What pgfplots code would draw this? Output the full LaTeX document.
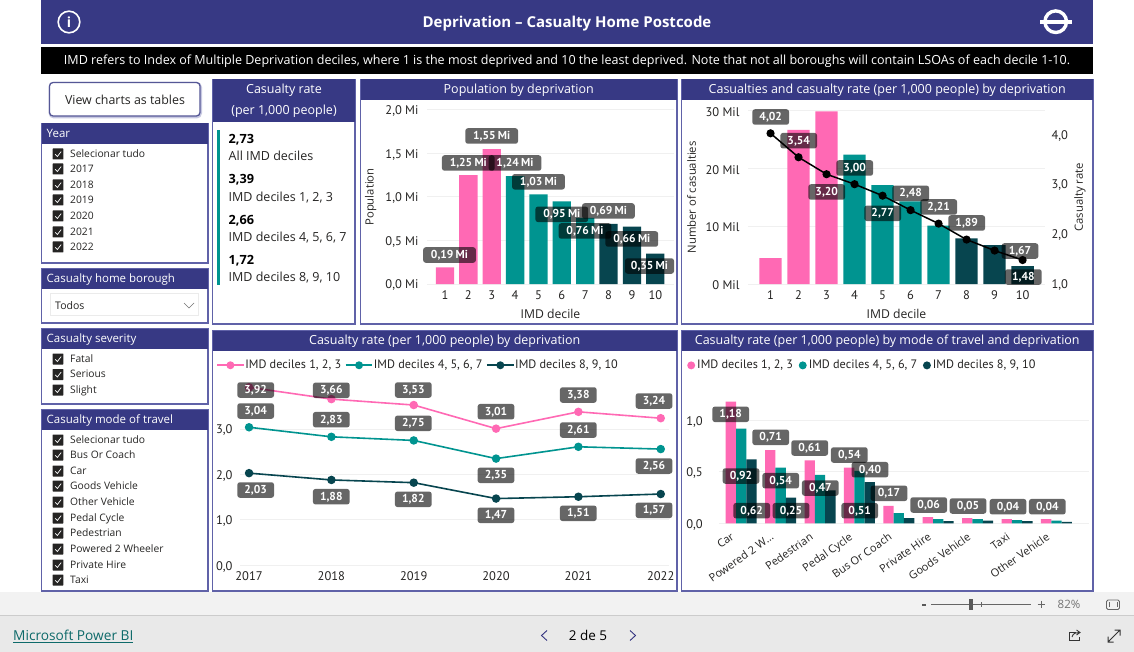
\documentclass[border=0pt]{standalone}
\usepackage{fontspec}
\usepackage{pgfplots}
\pgfplotsset{compat=1.18}
\setmainfont{Open Sans}
\newfontfamily\din{PT Sans}
\definecolor{hdr}{RGB}{55,57,132}
\definecolor{edge}{RGB}{96,98,168}
\definecolor{pinkb}{RGB}{255,105,180}
\definecolor{tealb}{RGB}{0,148,144}
\definecolor{darkb}{RGB}{7,69,79}
\definecolor{gridc}{RGB}{240,240,240}
\definecolor{inkc}{RGB}{37,36,35}
\definecolor{linkc}{RGB}{14,106,106}
\newcommand\fs[1]{\fontsize{#1}{#1}\selectfont}
\tikzset{
  txt/.style={inner sep=0pt,text height=.74em,text depth=.22em},
  panel/.style={draw=edge,line width=1.2pt,fill=white},
}
% value label: optional width, centre x, centre y, text
\newcommand\lab[4][36.7]{\node[fill=black,fill opacity=.6,text opacity=1,rounded corners=2.5pt,
  minimum width=#1pt,minimum height=15.5pt,inner sep=0pt,text height=.7em,text depth=0pt,
  text=white,font=\din\bfseries\fs{11.5}] at (#2,#3) {#4};}
\newcommand\chk[2]{\fill[inkc,rounded corners=.5pt] (52.7,#2-5.5) rectangle (63.4,#2+5.5);
  \draw[white,line width=.7pt] (55.2,#2+.3) -- (57.4,#2+2.5) -- (61.2,#2-2.5);
  \node[txt,anchor=west,text=inkc,font=\fs{10.3}] at (70,#2+.8) {#1};}
\newcommand\panelbox[6]{% x0 y0 x1 y1 header-bottom title
  \filldraw[panel] (#1,#2) rectangle (#3,#4);
  \fill[hdr] (#1,#2) rectangle (#3,#5);
  \node[text=white,txt,font=\fs{12.5}] at ({(#1+#3)/2},{(#2+#5)/2+1}) {#6};}
\newcommand\slicer[6]{% x0 y0 x1 y1 header-bottom title, left aligned
  \filldraw[panel] (#1,#2) rectangle (#3,#4);
  \fill[hdr] (#1,#2) rectangle (#3,#5);
  \node[text=white,txt,anchor=west,font=\fs{11.5}] at (#1+5,{(#2+#5)/2+1}) {#6};}
\pgfplotsset{
  dash/.style={scale only axis,axis line style={draw=none},major tick length=0pt,
    tick style={draw=none},
    ymajorgrids,grid style={gridc,line width=1pt},
    tick label style={text=inkc,font=\din\fs{12.5}},
    yticklabel style={yshift=-1.2pt},
    xticklabel shift=2.8pt,
    xlabel style={text=inkc,font=\fs{12.2}},
    ylabel style={text=inkc,font=\fs{11.3}},
    /pgf/number format/assume math mode=true},
  barplot/.style={ybar,bar shift=0pt,draw=none,fill=#1},
}
\begin{document}
\begin{tikzpicture}
\path[use as bounding box] (0pt,-652pt) rectangle (1134pt,0pt);
\fill[white] (0pt,-652pt) rectangle (1134pt,0pt);
\begin{scope}[x=1pt,y=-1pt]
% footer
\fill[black!5] (0,592) rectangle (1134,615);
\fill[black!8.5] (0,615) rectangle (1134,652);
\draw[black!20,line width=.8pt] (0,615) -- (1134,615);
% banner
\fill[hdr] (41,0) rectangle (1093,44);
\node[text=white,font=\bfseries\fs{15}] at (567,24) {Deprivation – Casualty Home Postcode};
\draw[white,line width=1.6pt] (69,22) circle (10.8);
\node[text=white,font=\bfseries\fs{14}] at (69,22) {i};
\draw[white,line width=3.4pt] (1055.7,21.7) circle (10.8);
\fill[hdr] (1047.5,18) rectangle (1064,25.5);
\fill[white] (1040,19.7) rectangle (1071.5,23.7);
\fill[black] (41,47) rectangle (1093,74);
\node[text=white,font=\fs{12.53}] at (567,61.3) {IMD refers to Index of Multiple Deprivation deciles, where 1 is the most deprived and 10 the least deprived. Note that not all boroughs will contain LSOAs of each decile 1-10.};
% button
\draw[edge!35,line width=3pt,rounded corners=4pt] (50,83.5) rectangle (200.5,117);
\filldraw[draw=hdr!85,fill=white,line width=1.3pt,rounded corners=3.5pt] (49.5,82.5) rectangle (200,116);
\node[text=inkc,font=\fs{12.4}] at (125,100) {View charts as tables};
% slicers
\slicer{41.5}{123.5}{208}{263}{144}{Year}
\chk{Selecionar tudo}{154}\chk{2017}{169}\chk{2018}{185}\chk{2019}{200}\chk{2020}{216}\chk{2021}{232}\chk{2022}{247}
\slicer{41.5}{268.5}{208}{323}{289}{Casualty home borough}
\draw[black!8,line width=.8pt] (50.5,293.5) rectangle (198.5,315);
\node[txt,anchor=west,text=inkc,font=\fs{10.5}] at (55,306.5) {Todos};
\draw[black!55,line width=.7pt] (184,303) -- (189,308) -- (194,303);
\slicer{41.5}{329}{208}{404}{349}{Casualty severity}
\chk{Fatal}{359}\chk{Serious}{374.5}\chk{Slight}{390}
\slicer{41.5}{409.5}{208}{591}{430}{Casualty mode of travel}
\chk{Selecionar tudo}{440}\chk{Bus Or Coach}{455}\chk{Car}{471}\chk{Goods Vehicle}{486}\chk{Other Vehicle}{502}
\chk{Pedal Cycle}{518}\chk{Pedestrian}{533}\chk{Powered 2 Wheeler}{549}\chk{Private Hire}{565}\chk{Taxi}{580}
% KPI card
\filldraw[panel] (212.5,79.5) rectangle (355,324);
\fill[hdr] (212.5,79.5) rectangle (355,122);
\node[text=white,font=\fs{12.5}] at (284,90.5) {Casualty rate};
\node[text=white,font=\fs{12.5}] at (284,111.5) {(per 1,000 people)};
\fill[tealb] (217,130) rectangle (220,285);
\node[txt,anchor=west,text=black,font=\bfseries\fs{12.7}] at (228.5,141) {2,73};
\node[txt,anchor=west,text=inkc,font=\fs{12.5}] at (228.5,158) {All IMD deciles};
\node[txt,anchor=west,text=black,font=\bfseries\fs{12.7}] at (228.5,181) {3,39};
\node[txt,anchor=west,text=inkc,font=\fs{12.5}] at (228.5,199) {IMD deciles 1, 2, 3};
\node[txt,anchor=west,text=black,font=\bfseries\fs{12.7}] at (228.5,221.5) {2,66};
\node[txt,anchor=west,text=inkc,font=\fs{12.5}] at (228.5,239) {IMD deciles 4, 5, 6, 7};
\node[txt,anchor=west,text=black,font=\bfseries\fs{12.7}] at (228.5,261.5) {1,72};
\node[txt,anchor=west,text=inkc,font=\fs{12.5}] at (228.5,279) {IMD deciles 8, 9, 10};
% chart panels
\panelbox{360.5}{79.5}{677}{324}{100}{Population by deprivation}
\panelbox{681.5}{79.5}{1093}{324}{100}{Casualties and casualty rate (per 1,000 people) by deprivation}
\panelbox{212.5}{330.5}{677}{591}{351}{Casualty rate (per 1,000 people) by deprivation}
\panelbox{681.5}{330.5}{1093}{591}{351}{Casualty rate (per 1,000 people) by mode of travel and deprivation}
\end{scope}

% population
\begin{axis}[dash,at={(427pt,-284pt)},anchor=south west,width=247pt,height=174pt,
  xmin=0.23,xmax=10.8,ymin=0,ymax=2,xtick={1,...,10},
  ytick={0,0.5,1,1.5,2},yticklabels={{0,0 Mi},{0,5 Mi},{1,0 Mi},{1,5 Mi},{2,0 Mi}},
  yticklabel shift=5pt,
  xlabel={IMD decile},ylabel={Population},
  xlabel style={at={(axis description cs:0.5,-0.171)},anchor=center},
  ylabel style={at={(axis description cs:-0.228,0.5)},anchor=center},
  bar width=18.3pt]
\addplot[barplot=pinkb] coordinates {(1,0.19)(2,1.25)(3,1.55)};
\addplot[barplot=tealb] coordinates {(4,1.24)(5,1.03)(6,0.95)(7,0.76)};
\addplot[barplot=darkb] coordinates {(8,0.69)(9,0.66)(10,0.35)};
\end{axis}

% casualties and rate
\begin{axis}[dash,at={(748pt,-284pt)},anchor=south west,width=297pt,height=173.3pt,
  xmin=0.196,xmax=10.8,ymin=0,ymax=30,xtick={1,...,10},
  ytick={0,10,20,30},yticklabels={0 Mil,10 Mil,20 Mil,30 Mil},
  yticklabel shift=5pt,
  xlabel={IMD decile},ylabel={Number of casualties},
  xlabel style={at={(axis description cs:0.5,-0.171)},anchor=center},
  ylabel style={at={(axis description cs:-0.19,0.5)},anchor=center},
  bar width=22.3pt]
\addplot[barplot=pinkb] coordinates {(1,4.5)(2,26.7)(3,29.9)};
\addplot[barplot=tealb] coordinates {(4,22.4)(5,17.1)(6,14.3)(7,10.1)};
\addplot[barplot=darkb] coordinates {(8,7.9)(9,6.75)(10,3.1)};
\end{axis}
\begin{axis}[dash,at={(748pt,-284pt)},anchor=south west,width=297pt,height=173.3pt,
  xmin=0.196,xmax=10.8,ymin=1,ymax=4.473,xtick=\empty,ymajorgrids=false,
  ytick={1,2,3,4},yticklabels={{1,0},{2,0},{3,0},{4,0}},ytick pos=right,yticklabel pos=right,
  yticklabel shift=3pt,
  ylabel={Casualty rate},
  ylabel style={at={(axis description cs:1.118,0.5)},anchor=center}]
\addplot[black,line width=1.5pt,mark=*,mark size=3.3pt,mark options={fill=black}] coordinates
  {(1,4.02)(2,3.54)(3,3.20)(4,3.00)(5,2.77)(6,2.48)(7,2.21)(8,1.89)(9,1.67)(10,1.48)};
\end{axis}

% rate by year
\begin{axis}[dash,at={(240pt,-565.3pt)},anchor=south west,width=429.3pt,height=190.7pt,
  xmin=2016.89,xmax=2022.104,ymin=0,ymax=4.2,xtick={2017,...,2022},
  xticklabels={2017,2018,2019,2020,2021,2022},
  ytick={0,1,2,3},yticklabels={{0,0},{1,0},{2,0},{3,0}},
  yticklabel shift=4pt,
  legend columns=3,
  legend style={at={(-0.0559,1.049)},anchor=west,draw=none,fill=none,inner sep=0pt,
    font=\din\fs{12.2},text=inkc,nodes={inner sep=0pt},
    /tikz/every even column/.style={column sep=3.6pt},
    /tikz/every odd column/.style={column sep=.8pt}},
  legend image code/.code={\draw[#1,line width=1.6pt] (0pt,0pt) -- (26.7pt,0pt);
    \fill[#1,draw=none] (13.4pt,0pt) circle (4pt);}]
\addplot[pinkb,line width=1.6pt,mark=*,mark size=3.4pt,mark options={fill=pinkb}] coordinates
  {(2017,3.92)(2018,3.66)(2019,3.53)(2020,3.01)(2021,3.38)(2022,3.24)};
\addlegendentry{IMD deciles 1, 2, 3}
\addplot[tealb,line width=1.6pt,mark=*,mark size=3.4pt,mark options={fill=tealb}] coordinates
  {(2017,3.04)(2018,2.83)(2019,2.75)(2020,2.35)(2021,2.61)(2022,2.56)};
\addlegendentry{IMD deciles 4, 5, 6, 7}
\addplot[darkb,line width=1.6pt,mark=*,mark size=3.4pt,mark options={fill=darkb}] coordinates
  {(2017,2.03)(2018,1.88)(2019,1.82)(2020,1.47)(2021,1.51)(2022,1.57)};
\addlegendentry{IMD deciles 8, 9, 10}
\end{axis}

% rate by mode
\begin{axis}[dash,at={(719.3pt,-523.3pt)},anchor=south west,width=370pt,height=143.3pt,
  xmin=-0.556,xmax=8.835,ymin=0,ymax=1.391,
  ybar=0pt,bar width=10.33pt,
  xtick={0,1,2,3,4,5,6,7,8},xticklabels={Car,Powered 2 W…,Pedestrian,Pedal Cycle,Bus Or Coach,Private Hire,Goods Vehicle,Taxi,Other Vehicle},
  xticklabel style={rotate=35,anchor=north east,font=\fs{11},xshift=-10.5pt,yshift=2.5pt},
  xticklabel shift=0pt,
  ytick={0,0.5,1},yticklabels={{0,0},{0,5},{1,0}},
  yticklabel shift=13pt,
  legend columns=3,
  legend style={at={(-0.0873,1.102)},anchor=west,draw=none,fill=none,inner sep=0pt,
    font=\din\fs{12.2},text=inkc,nodes={inner sep=0pt},
    /tikz/every even column/.style={column sep=5.6pt},
    /tikz/every odd column/.style={column sep=2pt}},
  legend image code/.code={\fill[#1,draw=none] (4pt,0pt) circle (4pt);}]
\addplot[draw=none,fill=pinkb] coordinates {(0,1.18)(1,0.71)(2,0.61)(3,0.54)(4,0.17)(5,0.06)(6,0.05)(7,0.04)(8,0.04)};
\addlegendentry{IMD deciles 1, 2, 3}
\addplot[draw=none,fill=tealb] coordinates {(0,0.92)(1,0.54)(2,0.47)(3,0.51)(4,0.10)(5,0.04)(6,0.04)(7,0.03)(8,0.025)};
\addlegendentry{IMD deciles 4, 5, 6, 7}
\addplot[draw=none,fill=darkb] coordinates {(0,0.62)(1,0.25)(2,0.32)(3,0.40)(4,0.05)(5,0.02)(6,0.025)(7,0.02)(8,0.015)};
\addlegendentry{IMD deciles 8, 9, 10}
\end{axis}

\begin{scope}[x=1pt,y=-1pt]
% value labels, population
\begin{scope}
\clip (360,79) rectangle (674,324);
\lab[52.7]{449.5}{255}{0,19\hspace{.2em}Mi}\lab[52.7]{468.3}{163}{1,25\hspace{.2em}Mi}\lab[52.7]{491.7}{136}{1,55\hspace{.2em}Mi}\lab[52.7]{515}{163}{1,24\hspace{.2em}Mi}
\lab[52.7]{538.5}{181.8}{1,03\hspace{.2em}Mi}\lab[52.7]{561.8}{214.3}{0,95\hspace{.2em}Mi}\lab[52.7]{585}{231}{0,76\hspace{.2em}Mi}\lab[52.7]{608.4}{211}{0,69\hspace{.2em}Mi}
\lab[52.7]{631.8}{239}{0,66\hspace{.2em}Mi}\lab[49]{649.5}{266}{0,35\hspace{.2em}Mi}
\end{scope}
% casualties panel
\lab{770.7}{117}{4,02}\lab{798.7}{140.7}{3,54}\lab{826.7}{192}{3,20}\lab{854.7}{168}{3,00}\lab{882.7}{213.3}{2,77}
\lab{910.7}{193.3}{2,48}\lab{938.7}{207}{2,21}\lab{966.7}{223}{1,89}\lab{1020}{251}{1,67}\lab{1023.3}{277}{1,48}
% year panel
\lab{255.7}{390}{3,92}\lab{331.3}{390.3}{3,66}\lab{413.3}{390}{3,53}\lab{496}{411.7}{3,01}\lab{578.3}{395}{3,38}\lab{654}{401}{3,24}
\lab{255.7}{411}{3,04}\lab{331.3}{419.7}{2,83}\lab{413.3}{423.3}{2,75}\lab{496}{475.3}{2,35}\lab{578.3}{430}{2,61}\lab{654}{466}{2,56}
\lab{255.7}{490}{2,03}\lab{331.3}{496.7}{1,88}\lab{413.3}{499.3}{1,82}\lab{496}{515.3}{1,47}\lab{578.3}{513.3}{1,51}\lab{654}{510.3}{1,57}
% mode panel
\lab{730.7}{414.3}{1,18}\lab{741}{476}{0,92}\lab{751.7}{510.7}{0,62}\lab{770.7}{437.3}{0,71}\lab{780.7}{480.7}{0,54}\lab{791}{510.7}{0,25}
\lab{809.7}{448}{0,61}\lab{820.3}{488}{0,47}\lab{849.3}{455}{0,54}\lab{870}{469.7}{0,40}\lab{859.7}{510.7}{0,51}\lab{889}{493.3}{0,17}
\lab{928.7}{505}{0,06}\lab{968}{506}{0,05}\lab{1008}{506.7}{0,04}\lab{1047.3}{506.7}{0,04}
% footer controls
\node[anchor=west,inner sep=0pt,text=linkc,font=\fs{13.7}] at (13,636) {\underline{Microsoft Power BI}};
\node[text=black,font=\fs{13.5}] at (588,635.5) {2 de 5};
\draw[black!50!blue!60!gray,line width=.9pt] (547,630.5) -- (541.5,635.5) -- (547,640.5);
\draw[black!50!blue!60!gray,line width=.9pt] (630,630.5) -- (635.5,635.5) -- (630,640.5);
\draw[black!60,line width=.8pt] (931,604.3) -- (1031,604.3);
\fill[black!65] (969,599) rectangle (973,609.5);
\draw[black!60,line width=.6pt] (981.3,602) -- (981.3,606.5);
\fill[black!65] (922,603.5) rectangle (926,605.5);
\draw[black!60,line width=1pt] (1037.5,604.3) -- (1044.5,604.3) (1041,600.8) -- (1041,607.8);
\node[text=black!55,font=\fs{11.5}] at (1069,604.3) {82\%};
\draw[black!60,line width=.8pt,rounded corners=1.5pt] (1106.5,600) rectangle (1119.5,609.5);
\draw[black!60,line width=.7pt] (1109,602.2) -- (1109,607.3) (1117,602.2) -- (1117,607.3);
\draw[black!80,line width=.9pt] (1076,632) -- (1069,632) -- (1069,640.5) -- (1079,640.5) -- (1079,637);
\draw[black!80,line width=.9pt] (1072,637) .. controls (1073,633) and (1076,632.5) .. (1079,632.5) (1076.5,630) -- (1080,632.5) -- (1076.5,635);
\draw[black!80,line width=1pt] (1108,642) -- (1120,630) (1114.5,630) -- (1120,630) -- (1120,635.5) (1108,636.5) -- (1108,642) -- (1113.5,642);
\end{scope}
\end{tikzpicture}
\end{document}
